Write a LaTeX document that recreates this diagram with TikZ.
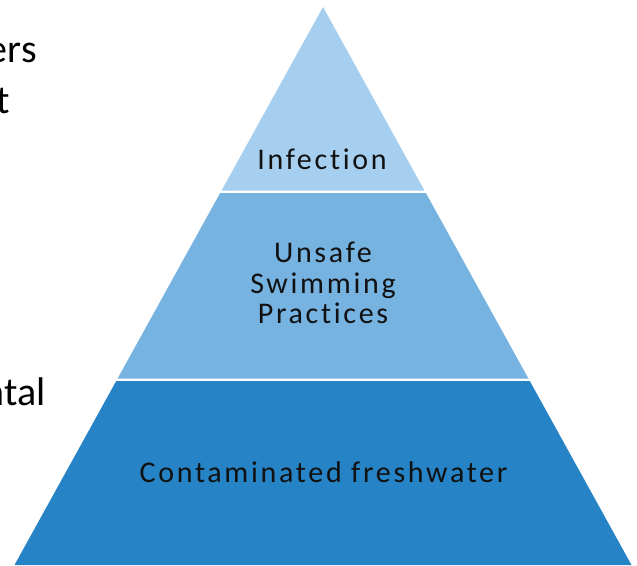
\documentclass[tikz,border=0pt]{standalone}
\usepackage{fontspec}
\setmainfont{Carlito}
\newfontfamily\labfont[LetterSpace=9,Ligatures=NoCommon]{Carlito}
\definecolor{lvlTop}{HTML}{A6CEEE}
\definecolor{lvlMid}{HTML}{76B3E1}
\definecolor{lvlBot}{HTML}{2683C6}
\definecolor{txtDark}{HTML}{111111}
\tikzset{
  lab/.style={font=\labfont\fontsize{30}{36}\selectfont, text=txtDark, inner sep=0pt, anchor=base},
  side/.style={font=\fontsize{40}{48}\selectfont, text=black, inner sep=0pt, anchor=base east},
}
\begin{document}
\begin{tikzpicture}[x=1pt,y=-1pt]
\useasboundingbox (0,0) rectangle (637,565);
\clip (0,0) rectangle (637,565);
% pyramid layers
\fill[lvlTop] (323,7) -- (424.45,190.5) -- (221.55,190.5) -- cycle;
\fill[lvlMid] (220.17,193) -- (425.83,193) -- (528.39,378.5) -- (117.61,378.5) -- cycle;
\fill[lvlBot] (116.23,381) -- (529.77,381) -- (631.5,565) -- (14.5,565) -- cycle;
% labels
\node[lab] (inf) at (322,169) {Infection};
\node[lab] (un1) at (323,262.5) {Unsafe};
\node[lab] (un2) at (323,293.5) {Swimming};
\node[lab] (un3) at (323,323.5) {Practices};
\node[lab] (cont) at (323.5,482) {Contaminated freshwater};
% clipped side texts
\node[side] (s1) at (37,62) {ers};
\node[side] (s2) at (10,113) {t};
\node[side] (s3) at (46,405) {ntal};
\end{tikzpicture}
\end{document}
